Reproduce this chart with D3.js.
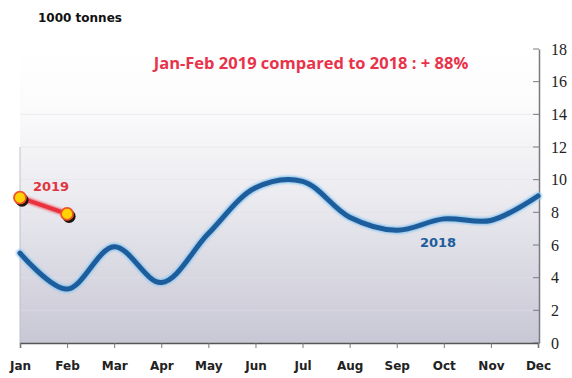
<!DOCTYPE html>
<html><head><meta charset="utf-8">
<script src="https://cdn.jsdelivr.net/npm/d3@7"></script>
<style>body{margin:0;background:#fff}svg{display:block}</style>
</head><body><svg id="c" width="572" height="378"></svg>
<script>
const months = ["Jan","Feb","Mar","Apr","May","Jun","Jul","Aug","Sep","Oct","Nov","Dec"];
const values2018 = [5.5,3.3,5.9,3.7,6.7,9.5,9.9,7.7,6.9,7.6,7.5,9.0];
const months2019 = ["Jan","Feb"];
const values2019 = [8.9,7.9];
const yTicks = [0,2,4,6,8,10,12,14,16,18];
const unitLabel = "1000 tonnes";
const titleText = "Jan-Feb 2019 compared to 2018 : + 88%";

(function(){
const svg = d3.select("#c");
const pL = 20, pR = 539, pT = 49, pB = 343;
const x = d3.scalePoint().domain(months).range([pL, pR - 1]);
const y = d3.scaleLinear().domain([0, 18]).range([pB, pT]);

const defs = svg.append("defs");
const g = defs.append("linearGradient").attr("id","bg").attr("x1",0).attr("y1",0).attr("x2",0).attr("y2",1);
g.append("stop").attr("offset","0%").attr("stop-color","#ffffff");
g.append("stop").attr("offset","20%").attr("stop-color","#fbfbfc");
g.append("stop").attr("offset","50%").attr("stop-color","#ebebf0");
g.append("stop").attr("offset","100%").attr("stop-color","#c8c7d5");
const f = defs.append("filter").attr("id","blur").attr("x","-20%").attr("y","-20%").attr("width","140%").attr("height","140%");
f.append("feGaussianBlur").attr("stdDeviation",1.2);

svg.append("rect").attr("x", pL).attr("y", pT).attr("width", pR - pL).attr("height", pB - pT).attr("fill","url(#bg)");

svg.append("g").selectAll("line").data(yTicks.filter(d => d > 0 && d < 16)).join("line")
  .attr("x1", pL).attr("x2", pR).attr("y1", d => y(d)).attr("y2", d => y(d))
  .attr("stroke", "#e2e2e8").attr("stroke-width", 1).attr("opacity", 0.6);

svg.append("line").attr("x1", pL).attr("x2", pL).attr("y1", y(12)).attr("y2", pB).attr("stroke", "#c0c0ca").attr("stroke-width", 1);

const yAxis = d3.axisRight(y).tickValues(yTicks).tickSize(0).tickPadding(12);
const ya = svg.append("g").attr("transform", `translate(${pR},0)`).call(yAxis);
ya.select(".domain").attr("stroke", "#7a7a80").attr("stroke-width", 1.5);
ya.selectAll(".tick text").attr("font-family", "'Liberation Serif', serif").attr("font-size", 16).attr("fill", "#222");
svg.append("g").selectAll("line").data(yTicks).join("line")
  .attr("x1", pR - 6).attr("x2", pR).attr("y1", d => y(d)).attr("y2", d => y(d))
  .attr("stroke", "#7a7a80").attr("stroke-width", 1);

const xAxis = d3.axisBottom(x).tickSize(5).tickPadding(13);
const xa = svg.append("g").attr("transform", `translate(0,${pB})`).call(xAxis);
xa.select(".domain").attr("stroke", "#555").attr("stroke-width", 1.5);
xa.selectAll(".tick line").attr("stroke", "#777");
xa.selectAll(".tick text").attr("font-family", "'DejaVu Sans', sans-serif").attr("font-weight", "bold").attr("font-size", 12).attr("fill", "#222");

const line = d3.line().x((d, i) => x(months[i])).y(d => y(d)).curve(d3.curveCatmullRom.alpha(0.5));
svg.append("path").datum(values2018).attr("d", line).attr("fill","none")
  .attr("stroke","#8fc6ee").attr("stroke-width",7.5).attr("filter","url(#blur)").attr("stroke-linecap","round");
svg.append("path").datum(values2018).attr("d", line).attr("fill","none")
  .attr("stroke","#1d5d9c").attr("stroke-width",5).attr("stroke-linecap","round");

const line19 = d3.line().x((d, i) => x(months2019[i])).y(d => y(d));
svg.append("path").datum(values2019).attr("d", line19).attr("fill","none")
  .attr("stroke","#f06a72").attr("stroke-width",6).attr("filter","url(#blur)");
svg.append("path").datum(values2019).attr("d", line19).attr("fill","none")
  .attr("stroke","#e8323f").attr("stroke-width",4);
const pts = values2019.map((v, i) => ({m: months2019[i], v}));
svg.append("g").selectAll("circle").data(pts).join("circle")
  .attr("cx", d => x(d.m) + 2).attr("cy", d => y(d.v) + 2.5).attr("r", 6.5).attr("fill", "#1e1410");
svg.append("g").selectAll("circle").data(pts).join("circle")
  .attr("cx", d => x(d.m)).attr("cy", d => y(d.v)).attr("r", 6).attr("fill", "#ffd200")
  .attr("stroke", "#f0502a").attr("stroke-width", 1.8);

svg.append("text").attr("x", 38).attr("y", 22).text(unitLabel)
  .attr("font-family","'DejaVu Sans', sans-serif").attr("font-weight","bold").attr("font-size",12).attr("fill","#111");
svg.append("text").attr("x", 311).attr("y", 69).attr("text-anchor","middle").text(titleText)
  .attr("font-family","'Open Sans', 'Liberation Sans', sans-serif").attr("font-weight","bold").attr("font-size",16.5).attr("fill","#e8334a");
svg.append("text").attr("x", 51).attr("y", 191).attr("text-anchor","middle").text("2019")
  .attr("font-family","'DejaVu Sans', sans-serif").attr("font-weight","bold").attr("font-size",13).attr("fill","#e0343f");
svg.append("text").attr("x", 438).attr("y", 247).attr("text-anchor","middle").text("2018")
  .attr("font-family","'DejaVu Sans', sans-serif").attr("font-weight","bold").attr("font-size",13).attr("fill","#1d5d9c");
})();
</script></body></html>
